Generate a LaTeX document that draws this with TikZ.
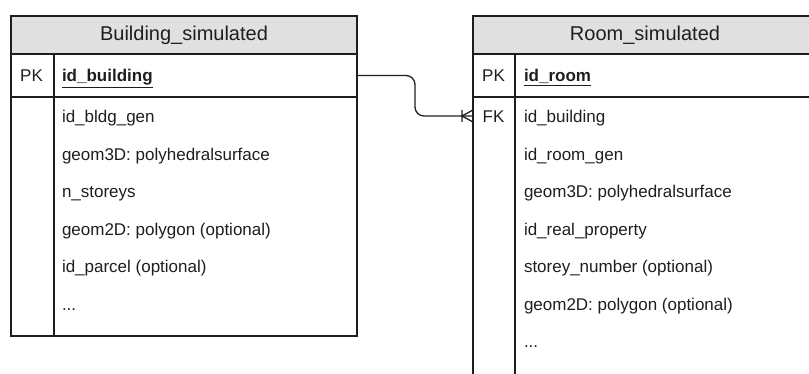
\documentclass[tikz,border=0pt]{standalone}
\usepackage{fontspec}
\setmainfont{Liberation Sans}
\usetikzlibrary{calc}
\definecolor{hdr}{RGB}{224,224,224}
\definecolor{ink}{RGB}{30,30,30}
\tikzset{
  box/.style={draw=ink, line width=1.8pt, inner sep=0pt, outer sep=0pt, anchor=north west},
  headbox/.style={box, fill=hdr, font=\fontsize{20}{24}\selectfont, text=ink},
  row/.style={inner sep=0pt, outer sep=0pt, anchor=base west, font=\fontsize{17}{20}\selectfont, text=ink},
  keytxt/.style={inner sep=0pt, outer sep=0pt, anchor=base, font=\fontsize{17}{20}\selectfont, text=ink},
  rel/.style={draw=ink, line width=1.3pt},
  divider/.style={draw=ink, line width=1.8pt}
}
\newcommand{\pkfield}[1]{\underline{\textbf{#1}}}
\begin{document}
\begin{tikzpicture}[x=1pt, y=-1pt]
\useasboundingbox (0,0) rectangle (809,374);
\begin{scope}
\clip (0,0) rectangle (809,374);
% ---------- Building_simulated ----------
\node[headbox, minimum width=346pt, minimum height=38pt] (bhead) at (11,16) {Building\_simulated};
\node[box, minimum width=346pt, minimum height=43pt] (bpk) at (11,54) {};
\node[box, minimum width=346pt, minimum height=239pt] (bbody) at (11,97) {};
\draw[divider] (54,54) -- (54,336);
\node[keytxt] (bpkl) at (31.5,82) {PK};
\node[row] (b0) at (62,82) {\pkfield{id\_building}};
\node[row] (b1) at (62,122.5) {id\_bldg\_gen};
\node[row] (b2) at (62,160.5) {geom3D: polyhedralsurface};
\node[row] (b3) at (62,197.5) {n\_storeys};
\node[row] (b4) at (62,235.5) {geom2D: polygon (optional)};
\node[row] (b5) at (62,272.5) {id\_parcel (optional)};
\node[row] (b6) at (62,310) {...};
% ---------- Room_simulated ----------
\node[headbox, minimum width=344pt, minimum height=38pt] (rhead) at (473,16) {Room\_simulated};
\node[box, minimum width=344pt, minimum height=43pt] (rpk) at (473,54) {};
\node[box, minimum width=344pt, minimum height=300pt] (rbody) at (473,97) {};
\draw[divider] (515,54) -- (515,380);
\node[inner sep=0pt, outer sep=0pt, minimum width=344pt, minimum height=38pt, anchor=north west] (rfkrow) at (473,97) {};
\node[keytxt] (rpkl) at (493.5,82) {PK};
\node[keytxt] (rfkl) at (493.5,122.5) {FK};
\node[row] (r0) at (524,82) {\pkfield{id\_room}};
\node[row] (r1) at (524,122.5) {id\_building};
\node[row] (r2) at (524,160.5) {id\_room\_gen};
\node[row] (r3) at (524,197.5) {geom3D: polyhedralsurface};
\node[row] (r4) at (524,235.5) {id\_real\_property};
\node[row] (r5) at (524,272.5) {storey\_number (optional)};
\node[row] (r6) at (524,310.5) {geom2D: polygon (optional)};
\node[row] (r7) at (524,347.5) {...};
% ---------- relation ----------
\coordinate (bend) at (415,95);
\draw[rel, rounded corners=9pt] (bpk.east) -| (bend) |- (rfkrow.west);
\draw[rel] ($(rfkrow.west)+(-11,0)$) -- ($(rfkrow.west)+(0,-6)$)
           ($(rfkrow.west)+(-11,0)$) -- ($(rfkrow.west)+(0,6)$)
           ($(rfkrow.west)+(-11,-6)$) -- ($(rfkrow.west)+(-11,6)$);
\end{scope}
\end{tikzpicture}
\end{document}
